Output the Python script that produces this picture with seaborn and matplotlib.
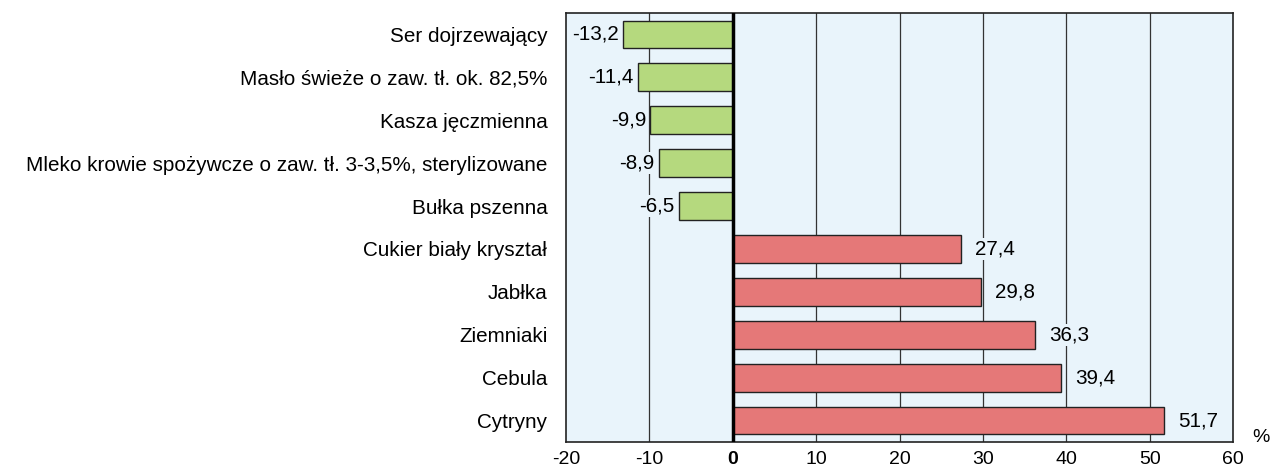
import matplotlib
matplotlib.use("Agg")
import matplotlib.pyplot as plt
import seaborn as sns
import pandas as pd

categories = [
    "Ser dojrzewający",
    "Masło świeże o zaw. tł. ok. 82,5%",
    "Kasza jęczmienna",
    "Mleko krowie spożywcze o zaw. tł. 3-3,5%, sterylizowane",
    "Bułka pszenna",
    "Cukier biały kryształ",
    "Jabłka",
    "Ziemniaki",
    "Cebula",
    "Cytryny",
]
values = [-13.2, -11.4, -9.9, -8.9, -6.5, 27.4, 29.8, 36.3, 39.4, 51.7]
x_ticks = [-20, -10, 0, 10, 20, 30, 40, 50, 60]

GREEN = "#b5d97e"
RED = "#e57878"
BG = "#e9f4fb"
FS = 14.9

df = pd.DataFrame({"cat": categories, "val": values})
df["sign"] = ["neg" if v < 0 else "pos" for v in values]

sns.set_theme(style="white")
plt.rcParams["font.family"] = ["Liberation Sans", "DejaVu Sans"]
plt.rcParams["text.color"] = "black"
plt.rcParams["xtick.color"] = "black"
plt.rcParams["ytick.color"] = "black"

fig = plt.figure(figsize=(12.71, 4.70), dpi=100)
ax = fig.add_axes([566 / 1271, 1 - 442 / 470, (1233 - 566) / 1271, (442 - 13) / 470])
ax.set_facecolor(BG)

sns.barplot(data=df, y="cat", x="val", hue="sign", palette={"neg": GREEN, "pos": RED},
            order=categories, orient="h", width=0.65, dodge=False, legend=False,
            saturation=1, edgecolor="#222222", linewidth=1.0, ax=ax, zorder=3)

ax.set_xlim(-20, 60)
ax.set_ylim(9.5, -0.5)
ax.set_xticks(x_ticks)
ax.set_xticklabels([str(t) for t in x_ticks], fontsize=14)
for lbl, t in zip(ax.get_xticklabels(), x_ticks):
    lbl.set_color("black")
    if t == 0:
        lbl.set_fontweight("bold")
for lbl in ax.get_yticklabels():
    lbl.set_color("black")
ax.tick_params(axis="x", length=0, pad=6.5, labelcolor="black")
ax.tick_params(axis="y", length=0, pad=13.5, labelsize=FS, labelcolor="black")
ax.set_xlabel("")
ax.set_ylabel("")

for t in x_ticks[1:-1]:
    if t == 0:
        continue
    ax.axvline(t, color="#333333", lw=0.9, zorder=1)
ax.axvline(0, color="black", lw=2.5, zorder=5)

for s in ax.spines.values():
    s.set_visible(True)
    s.set_color("#222222")
    s.set_linewidth(1.2)

for i, v in enumerate(values):
    txt = f"{v:.1f}".replace(".", ",")
    if v < 0:
        ax.text(v - 0.5, i, txt, ha="right", va="center", fontsize=FS, zorder=4,
                color="black", bbox=dict(facecolor=BG, edgecolor="none", pad=1.0))
    else:
        ax.text(v + 1.7, i, txt, ha="left", va="center", fontsize=FS, zorder=4,
                color="black", bbox=dict(facecolor=BG, edgecolor="none", pad=1.0))

fig.text(1261 / 1271, 1 - 438 / 470, "%", ha="center", va="center", fontsize=14,
         color="black")

fig.savefig("out.png", dpi=100)
